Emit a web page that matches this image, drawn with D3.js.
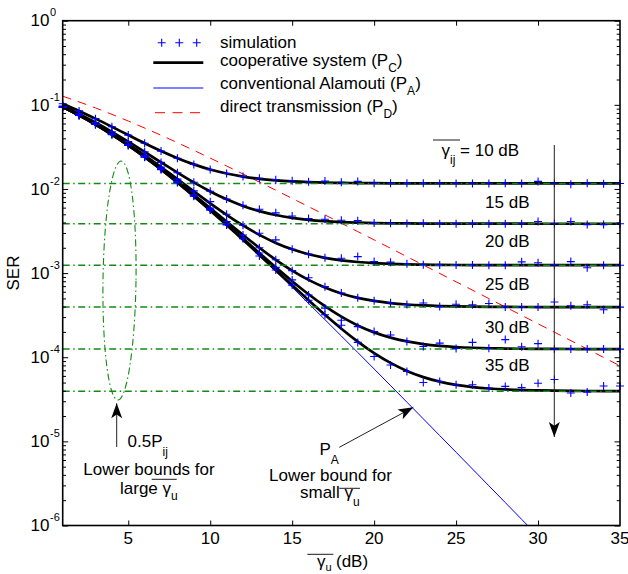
<!DOCTYPE html>
<html><head><meta charset="utf-8">
<script src="https://cdn.jsdelivr.net/npm/d3@7"></script>
<style>html,body{margin:0;padding:0;background:#fff;} svg{display:block;font-family:"Liberation Sans",Arial,Helvetica,sans-serif;}</style>
</head><body><svg id="chart" width="628" height="574"></svg>
<script>
// ---------------- data ----------------
const snrDb = [1,2,3,4,5,6,7,8,9,10,11,12,13,14,15,16,17,18,19,20,21,22,23,24,25,26,27,28,29,30,31,32,33,34,35];
const gammaIj = ["10 dB","15 dB","20 dB","25 dB","30 dB","35 dB"];

// cooperative system P_C (theory), one array per gamma_ij
const pc10 = [0.1033,0.08470,0.06850,0.05485,0.04373,0.03495,0.02823,0.02323,0.01961,0.01703,0.01525,0.01403,0.01320,0.01266,0.01230,0.01206,0.01191,0.01181,0.01175,0.01171,0.01168,0.01166,0.01165,0.01165,0.01164,0.01164,0.01164,0.01164,0.01164,0.01164,0.01163,0.01163,0.01163,0.01163,0.01163];
const pc15 = [0.09702,0.07809,0.06163,0.04776,0.03647,0.02755,0.02073,0.01564,0.01196,0.009347,0.007531,0.006291,0.005455,0.004899,0.004533,0.004294,0.004139,0.004039,0.003975,0.003934,0.003907,0.003891,0.003880,0.003873,0.003869,0.003866,0.003864,0.003863,0.003863,0.003862,0.003862,0.003862,0.003862,0.003862,0.003862];
const pc20 = [0.09489,0.07587,0.05932,0.04537,0.03402,0.02505,0.01819,0.01309,0.009382,0.006755,0.004930,0.003683,0.002843,0.002284,0.001916,0.001676,0.001520,0.001419,0.001355,0.001313,0.001287,0.001270,0.001259,0.001252,0.001248,0.001245,0.001244,0.001243,0.001242,0.001242,0.001241,0.001241,0.001241,0.001241,0.001241];
const pc25 = [0.09420,0.07515,0.05857,0.04460,0.03323,0.02425,0.01738,0.01226,0.008549,0.005918,0.004090,0.002841,0.001999,0.001440,0.001071,8.301e-4,6.739e-4,5.731e-4,5.083e-4,4.669e-4,4.404e-4,4.236e-4,4.129e-4,4.061e-4,4.018e-4,3.990e-4,3.973e-4,3.962e-4,3.955e-4,3.951e-4,3.948e-4,3.947e-4,3.945e-4,3.945e-4,3.944e-4];
const pc30 = [0.09398,0.07492,0.05833,0.04435,0.03298,0.02399,0.01712,0.01200,0.008284,0.005652,0.003822,0.002572,0.001731,0.001171,8.018e-4,5.609e-4,4.046e-4,3.037e-4,2.389e-4,1.975e-4,1.710e-4,1.541e-4,1.434e-4,1.366e-4,1.323e-4,1.296e-4,1.279e-4,1.268e-4,1.261e-4,1.257e-4,1.254e-4,1.252e-4,1.251e-4,1.250e-4,1.250e-4];
const pc35 = [0.09391,0.07484,0.05826,0.04428,0.03290,0.02391,0.01703,0.01191,0.008200,0.005567,0.003738,0.002487,0.001646,0.001085,7.165e-4,4.756e-4,3.192e-4,2.184e-4,1.536e-4,1.121e-4,8.561e-5,6.876e-5,5.805e-5,5.125e-5,4.694e-5,4.421e-5,4.249e-5,4.139e-5,4.070e-5,4.027e-5,3.999e-5,3.982e-5,3.971e-5,3.964e-5,3.959e-5];

// simulation points
const sim10 = [0.103,0.0847,0.0685,0.0549,0.0437,0.0350,0.0282,0.0232,0.0196,0.0170,0.0153,0.0141,0.0134,0.0129,0.0125,0.0122,0.0124,0.0120,0.0123,0.0117,0.0117,0.0117,0.0117,0.0116,0.0116,0.0116,0.0116,0.0117,0.0116,0.0123,0.0116,0.0114,0.0117,0.0115,0.0116];
const sim15 = [0.0970,0.0781,0.0616,0.0478,0.0365,0.0276,0.0207,0.0156,0.0120,0.00940,0.00760,0.00640,0.00575,0.00520,0.00478,0.00445,0.00436,0.00425,0.00420,0.00395,0.00392,0.00389,0.00390,0.00387,0.00387,0.00387,0.00386,0.00385,0.00386,0.00410,0.00386,0.00410,0.00377,0.00377,0.00386];
const sim20 = [0.0949,0.0759,0.0593,0.0454,0.0340,0.0251,0.0182,0.0131,0.00950,0.00707,0.00500,0.00370,0.00298,0.00248,0.00192,0.00168,0.00152,0.00150,0.00157,0.00137,0.00135,0.00129,0.00126,0.00125,0.00125,0.00125,0.00124,0.00124,0.00136,0.00133,0.00126,0.00137,0.00116,0.00124,0.00124];
const sim25 = [0.0942,0.0752,0.0586,0.0446,0.0332,0.0243,0.0174,0.0123,0.00855,0.00592,0.00409,0.00284,0.00200,0.00144,0.00107,8.80e-4,6.90e-4,5.80e-4,5.10e-4,4.70e-4,4.45e-4,4.24e-4,4.42e-4,4.00e-4,4.27e-4,4.20e-4,4.36e-4,3.96e-4,3.96e-4,3.95e-4,4.53e-4,4.10e-4,4.20e-4,3.67e-4,3.94e-4];
const sim30 = [0.0940,0.0749,0.0583,0.0444,0.0330,0.0240,0.0171,0.0120,0.00828,0.00565,0.00382,0.00257,0.00173,0.00117,8.30e-4,5.50e-4,3.83e-4,2.75e-4,2.31e-4,2.02e-4,1.84e-4,1.54e-4,1.34e-4,1.47e-4,1.27e-4,1.50e-4,1.28e-4,1.62e-4,1.33e-4,1.45e-4,1.25e-4,1.25e-4,1.25e-4,1.25e-4,1.25e-4];
const sim35 = [0.0939,0.0748,0.0583,0.0443,0.0329,0.0239,0.0170,0.0119,0.00820,0.00564,0.00374,0.00260,0.00160,0.00109,7.20e-4,4.76e-4,3.20e-4,2.40e-4,1.50e-4,1.02e-4,8.10e-5,6.76e-5,5.00e-5,5.14e-5,4.70e-5,4.70e-5,4.30e-5,4.50e-5,4.35e-5,4.90e-5,5.44e-5,3.76e-5,3.85e-5,4.55e-5,4.55e-5];

// conventional Alamouti P_A (x = 1..30)
const snrA = [1,2,3,4,5,6,7,8,9,10,11,12,13,14,15,16,17,18,19,20,21,22,23,24,25,26,27,28,29,30];
const pA = [0.09388,0.07481,0.05822,0.04424,0.03286,0.02387,0.01699,0.01187,0.008161,0.005528,0.003698,0.002448,0.001606,0.001046,6.771e-4,4.361e-4,2.797e-4,1.788e-4,1.140e-4,7.256e-5,4.609e-5,2.924e-5,1.853e-5,1.173e-5,7.422e-6,4.693e-6,2.966e-6,1.874e-6,1.184e-6,7.475e-7];

// direct transmission P_D
const snrD = [1,3,5,7,9,11,13,15,17,19,21,23,25,27,29,31,33,35];
const pD = [0.1267,0.09191,0.06418,0.04348,0.02878,0.01875,0.01208,0.007723,0.004915,0.003118,0.001974,0.001248,7.887e-4,4.981e-4,3.144e-4,1.985e-4,1.252e-4,7.904e-5];

// lower bounds 0.5 P_ij
const floors = [0.01163,0.003862,0.001241,3.944e-4,1.249e-4,3.952e-5];

const xTicks = [5,10,15,20,25,30,35];
const yDecades = [1,1e-1,1e-2,1e-3,1e-4,1e-5,1e-6];
const yExp = ["0","-1","-2","-3","-4","-5","-6"];

// ---------------- drawing ----------------
const svg = d3.select("#chart");
const L=62.7, R=620, T=20.7, B=525.5;
const x = d3.scaleLinear().domain([1,35]).range([L,R]);
const y = d3.scaleLog().domain([1e-6,1]).range([B,T]);
const FS = 17;

svg.append("rect").attr("width",628).attr("height",574).attr("fill","#fff");
svg.append("defs").append("clipPath").attr("id","plotclip")
  .append("rect").attr("x",L).attr("y",T).attr("width",R-L).attr("height",B-T);

const plot = svg.append("g").attr("clip-path","url(#plotclip)");
const line = d3.line().x(d=>x(d[0])).y(d=>y(d[1])).curve(d3.curveMonotoneX);

// P_A
plot.append("path").datum(snrA.map((s,i)=>[s,pA[i]])).attr("d",line)
  .attr("fill","none").attr("stroke","#0000ff").attr("stroke-width",1);
// P_D
plot.append("path").datum(snrD.map((s,i)=>[s,pD[i]])).attr("d",line)
  .attr("fill","none").attr("stroke","#ff0000").attr("stroke-width",1).attr("stroke-dasharray","9,7");
// P_C
const pcs = [pc10,pc15,pc20,pc25,pc30,pc35];
pcs.forEach(arr=>{
  plot.append("path").datum(snrDb.map((s,i)=>[s,arr[i]])).attr("d",line)
    .attr("fill","none").attr("stroke","#000").attr("stroke-width",2.7);
});
// floors
floors.forEach(f=>{
  plot.append("line").attr("x1",x(1)).attr("x2",x(35)).attr("y1",y(f)).attr("y2",y(f))
    .attr("stroke","#138a13").attr("stroke-width",1.5).attr("stroke-dasharray","7,3.5,1.5,3.5");
});
// simulation markers
const sims = [sim10,sim15,sim20,sim25,sim30,sim35];
const plus = (px,py,s)=>`M${px-s},${py}H${px+s}M${px},${py-s}V${py+s}`;
const mk = svg.append("g");
sims.forEach(arr=>{
  mk.selectAll(null).data(snrDb.map((s,i)=>[s,arr[i]])).enter().append("path")
    .attr("d",d=>plus(x(d[0]),y(d[1]),4)).attr("stroke","#0000ff").attr("stroke-width",1.1).attr("fill","none");
});

// ellipse around bounds
svg.append("ellipse").attr("cx",119.5).attr("cy",280.5).attr("rx",16.5).attr("ry",119.5)
  .attr("transform","rotate(0.8,119.5,280.5)")
  .attr("fill","none").attr("stroke","#138a13").attr("stroke-width",1.1).attr("stroke-dasharray","7,3,1.5,3");

// frame
svg.append("rect").attr("x",L).attr("y",T).attr("width",R-L).attr("height",B-T)
  .attr("fill","none").attr("stroke","#000").attr("stroke-width",1.6);

// ticks
const allY = y.ticks();
const isMajor = v => yDecades.some(d=>Math.abs(v/d-1)<1e-6);
const minorY = allY.filter(v=>!isMajor(v));
function axisTicks(axis, vals, size, tx){
  const g = svg.append("g").attr("transform",tx).call(axis.tickValues(vals).tickSize(size).tickFormat("").tickSizeOuter(0));
  g.select(".domain").remove();
  g.selectAll("line").attr("stroke","#000").attr("stroke-width",1);
}
axisTicks(d3.axisLeft(y), yDecades, -5.5, `translate(${L},0)`);
axisTicks(d3.axisLeft(y), minorY, -3.3, `translate(${L},0)`);
axisTicks(d3.axisRight(y), yDecades, -5.5, `translate(${R},0)`);
axisTicks(d3.axisRight(y), minorY, -3.3, `translate(${R},0)`);
axisTicks(d3.axisBottom(x), xTicks.slice(0,-1), -5, `translate(0,${B})`);
axisTicks(d3.axisTop(x), xTicks.slice(0,-1), -5, `translate(0,${T})`);

// x tick labels
svg.selectAll(null).data(xTicks).enter().append("text")
  .attr("x",d=>x(d)).attr("y",B+18.5).attr("text-anchor","middle").attr("font-size",FS).text(d=>d);
// y tick labels
yDecades.forEach((d,i)=>{
  svg.append("text").attr("x",49.5).attr("y",y(d)+5.7).attr("font-size",FS).attr("text-anchor","end").text("10");
  svg.append("text").attr("x",50).attr("y",y(d)-4.3).attr("font-size",11).text(yExp[i]);
});

// rich text helper
function rich(x0,y0,parts,anchor){
  const t = svg.append("text").attr("x",x0).attr("y",y0).attr("font-size",FS).attr("text-anchor",anchor||"start").attr("fill","#000");
  let shift=0;
  parts.forEach(p=>{
    const ts=t.append("tspan").text(p.t);
    const target = p.sub ? (p.dy||6.5) : 0;
    if(target-shift!==0) ts.attr("dy",target-shift);
    shift=target;
    if(p.sub) ts.attr("font-size",p.fs||12);
  });
  return t;
}
function over(x1,x2,yy){
  svg.append("line").attr("x1",x1).attr("x2",x2).attr("y1",yy).attr("y2",yy).attr("stroke","#000").attr("stroke-width",0.9);
}

// axis titles
rich(317,566.5,[{t:"γ"},{t:"u",sub:true,dy:4,fs:11}]);
over(307.3,333.3,554.3);
svg.append("text").attr("x",336).attr("y",567).attr("font-size",FS).text("(dB)");
svg.append("text").attr("transform","translate(19,273) rotate(-90)").attr("text-anchor","middle").attr("font-size",FS).text("SER");

// legend
[161.7,179.3,196.7].forEach(px=>{
  svg.append("path").attr("d",plus(px,42.7,4)).attr("stroke","#0000ff").attr("stroke-width",1.1);
});
svg.append("line").attr("x1",153.3).attr("x2",203.3).attr("y1",62.7).attr("y2",62.7).attr("stroke","#000").attr("stroke-width",2.7);
svg.append("line").attr("x1",153.3).attr("x2",203.3).attr("y1",88).attr("y2",88).attr("stroke","#0000ff").attr("stroke-width",1);
svg.append("line").attr("x1",155).attr("x2",205).attr("y1",112.7).attr("y2",112.7).attr("stroke","#ff0000").attr("stroke-width",1).attr("stroke-dasharray","10,7.5");
rich(220,47.8,[{t:"simulation"}]);
rich(220,65.5,[{t:"cooperative system (P"},{t:"C",sub:true},{t:")"}]);
rich(220,88.5,[{t:"conventional Alamouti (P"},{t:"A",sub:true},{t:")"}]);
rich(220,111.8,[{t:"direct transmission (P"},{t:"D",sub:true},{t:")"}]);

// gamma_ij labels
rich(441.5,156,[{t:"γ"},{t:"ij",sub:true,dy:8},{t:" = "+gammaIj[0]}]);
over(433,460,140);
const lblY = [208.3,246.7,290,332.7,370.7];
gammaIj.slice(1).forEach((g,i)=>{
  svg.append("text").attr("x",529.5).attr("y",lblY[i]).attr("text-anchor","end").attr("font-size",FS).text(g);
});

// arrows
function arrow(x1,y1,x2,y2,len,wid){
  svg.append("line").attr("x1",x1).attr("y1",y1).attr("x2",x2).attr("y2",y2).attr("stroke","#222").attr("stroke-width",1);
  const dx=x2-x1, dy=y2-y1, l=Math.hypot(dx,dy), ux=dx/l, uy=dy/l;
  const bx=x2-ux*len, by=y2-uy*len, nx=-uy, ny=ux;
  svg.append("path").attr("d",`M${x2},${y2}L${bx+nx*wid/2},${by+ny*wid/2}L${bx+ux*len*0.25},${by+uy*len*0.25}L${bx-nx*wid/2},${by-ny*wid/2}Z`).attr("fill","#000");
}
arrow(554.3,145,554.3,437,15,11);
arrow(116.7,447,116.7,403.3,15,11);
arrow(339.3,447.3,413.3,407.3,15,11);

// annotations
rich(127.5,446.7,[{t:"0.5P"},{t:"ij",sub:true,dy:9}]);
svg.append("text").attr("x",149).attr("y",474.6).attr("text-anchor","middle").attr("font-size",FS).text("Lower bounds for");
rich(120,493.5,[{t:"large γ"},{t:"u",sub:true,dy:6.5}]);
over(151.7,176.7,479.3);
rich(319.5,455,[{t:"P"},{t:"A",sub:true,dy:8.5}]);
svg.append("text").attr("x",330.5).attr("y",481.2).attr("text-anchor","middle").attr("font-size",FS).text("Lower bound for");
rich(300,498.3,[{t:"small γ"},{t:"u",sub:true,dy:8}]);
over(339.3,360,488.3);
</script></body></html>
